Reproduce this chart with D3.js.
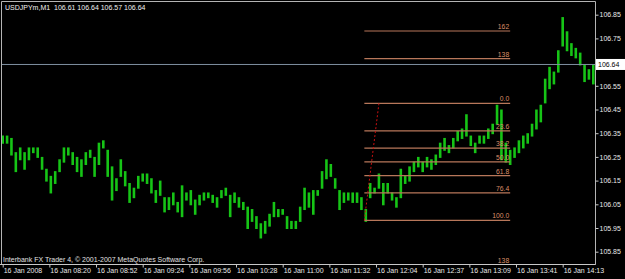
<!DOCTYPE html>
<html>
<head>
<meta charset="utf-8">
<script src="https://cdn.jsdelivr.net/npm/d3@7"></script>
<style>
  html, body { margin: 0; padding: 0; background: #000; overflow: hidden; }
  text { font-family: "Liberation Sans", Arial, sans-serif; }
</style>
</head>
<body>
<svg width="625" height="279"></svg>
<script>
// USDJPYm M1, one value every 3 minutes (high / low)
var title = "USDJPYm,M1  106.61 106.64 106.57 106.64";
var copyright = "Interbank FX Trader 4, \u00a9 2001-2007 MetaQuotes Software Corp.";
var lastPrice = 106.64;
var stepMin = 3;
var highs = [
  106.34,106.34,106.33,106.27,106.29,106.27,106.29,106.29,106.29,106.25,
  106.20,106.17,106.19,106.24,106.29,106.29,106.27,106.25,106.24,106.27,
  106.28,106.25,106.31,106.32,106.28,106.21,106.16,106.24,106.19,106.14,
  106.12,106.17,106.18,106.18,106.16,106.11,106.15,106.08,106.08,106.10,
  106.06,106.13,106.10,106.11,106.07,106.09,106.10,106.10,106.09,106.08,
  106.11,106.12,106.09,106.10,106.08,106.06,106.04,106.03,106.00,105.97,
  105.98,106.01,106.06,106.03,106.03,106.00,105.98,105.98,106.04,106.12,
  106.10,106.11,106.11,106.19,106.24,106.22,106.16,106.11,106.10,106.10,
  106.10,106.10,106.08,106.03,106.14,106.12,106.18,106.14,106.14,106.10,
  106.08,106.20,106.17,106.21,106.23,106.25,106.23,106.25,106.24,106.26,
  106.31,106.33,106.30,106.33,106.36,106.37,106.43,106.34,106.31,106.34,
  106.34,106.37,106.39,106.47,106.45,106.31,106.28,106.29,106.32,106.34,
  106.35,106.39,106.45,106.47,106.58,106.63,106.61,106.70,106.84,106.78,
  106.73,106.71,106.69,106.64,106.62,106.64
];
var lows = [
  106.31,106.31,106.26,106.19,106.24,106.20,106.24,106.27,106.25,106.20,
  106.15,106.10,106.14,106.19,106.23,106.26,106.22,106.19,106.17,106.22,
  106.25,106.17,106.22,106.29,106.17,106.07,106.11,106.17,106.13,106.06,
  106.08,106.12,106.15,106.14,106.10,106.06,106.09,106.02,106.03,106.05,
  106.02,106.00,106.07,106.05,106.01,106.05,106.07,106.08,106.06,106.04,
  106.08,106.09,106.00,106.06,106.04,106.03,105.95,105.98,105.95,105.91,
  105.93,105.96,106.00,106.00,106.01,105.95,105.95,105.95,105.98,106.03,
  106.04,106.01,106.09,106.12,106.16,106.17,106.12,106.03,106.06,106.07,
  106.06,106.06,106.03,105.98,106.08,106.10,106.12,106.05,106.10,106.07,
  106.04,106.08,106.14,106.15,106.19,106.21,106.19,106.21,106.20,106.22,
  106.25,106.28,106.27,106.29,106.32,106.33,106.34,106.30,106.27,106.31,
  106.31,106.33,106.35,106.39,106.24,106.23,106.22,106.25,106.27,106.29,
  106.31,106.34,106.37,106.40,106.48,106.54,106.56,106.61,106.72,106.70,
  106.68,106.67,106.64,106.57,106.58,106.56
];
var timeLabels = ["16 Jan 2008", "16 Jan 08:20", "16 Jan 08:52", "16 Jan 09:24", "16 Jan 09:56",
  "16 Jan 10:28", "16 Jan 11:00", "16 Jan 11:32", "16 Jan 12:04", "16 Jan 12:37",
  "16 Jan 13:09", "16 Jan 13:41", "16 Jan 14:13"];
var labelEvery = 32; // bars between time labels
var priceTicks = [106.85, 106.75, 106.55, 106.45, 106.35, 106.25, 106.15, 106.05, 105.95, 105.85];

// fibonacci retracement drawn on the chart
var fibHigh = 106.476, fibLow = 105.982;
var fibLevels = [0, 23.6, 38.2, 50, 61.8, 76.4, 100, -38.2, -61.8, 138.2];
var fibNames = ["0.0", "23.6", "38.2", "50.0", "61.8", "76.4", "100.0", "138", "162", "138"];
var fibFrom = 248, fibTo = 348, fibPeak = 258; // minutes

var svg = d3.select("svg");
var W = 625, H = 279, right = 595, bottom = 264;

var x = d3.scaleLinear().domain([0, 405]).range([2.7, 593.3]);
var y = d3.scaleLinear().domain([105.85, 106.85]).range([251.7, 14.7]);

svg.append("rect").attr("width", W).attr("height", H).attr("fill", "#000");

svg.append("defs").append("clipPath").attr("id", "plot")
  .append("rect").attr("x", 2).attr("y", 2).attr("width", right - 2).attr("height", bottom - 2);

var plot = svg.append("g").attr("clip-path", "url(#plot)");

// price bars
plot.selectAll("line.bar")
  .data(highs)
  .enter()
  .append("line")
  .attr("class", "bar")
  .attr("x1", function(d, i) { return x(i * stepMin); })
  .attr("x2", function(d, i) { return x(i * stepMin); })
  .attr("y1", function(d) { return y(d); })
  .attr("y2", function(d, i) { return y(lows[i]) + 1; })
  .attr("stroke", "#16c416")
  .attr("stroke-width", 2.6);

// current price line
plot.append("line")
  .attr("x1", 0).attr("x2", right)
  .attr("y1", y(lastPrice)).attr("y2", y(lastPrice))
  .attr("stroke", "#7f8fa0").attr("stroke-width", 1);

// fibo levels
var fibPrice = function(l) { return fibHigh - (fibHigh - fibLow) * l / 100; };
var fib = plot.selectAll("g.fib")
  .data(fibLevels)
  .enter()
  .append("g")
  .attr("class", "fib");
fib.append("line")
  .attr("x1", x(fibFrom)).attr("x2", x(fibTo))
  .attr("y1", function(d) { return y(fibPrice(d)); })
  .attr("y2", function(d) { return y(fibPrice(d)); })
  .attr("stroke", "#b8775a").attr("stroke-width", 1.2);
fib.append("text")
  .attr("x", x(fibTo) - 1)
  .attr("y", function(d) { return y(fibPrice(d)) - 2; })
  .attr("text-anchor", "end")
  .attr("font-size", 6.8)
  .attr("fill", "#dc8e68")
  .text(function(d, i) { return fibNames[i]; });

// dotted trend line of the fibo
plot.append("line")
  .attr("x1", x(fibFrom)).attr("y1", y(fibLow))
  .attr("x2", x(fibPeak)).attr("y2", y(fibHigh))
  .attr("stroke", "#c81010").attr("stroke-width", 1)
  .attr("stroke-dasharray", "2,2");

// frame
svg.append("path")
  .attr("d", "M1.5,1.5H" + (right + 0.5) + "V" + (bottom + 0.5) + "H1.5Z")
  .attr("fill", "none").attr("stroke", "#b4b4b4").attr("stroke-width", 1);
svg.append("line")
  .attr("x1", 0).attr("x2", right + 0.5)
  .attr("y1", bottom + 0.5).attr("y2", bottom + 0.5)
  .attr("stroke", "#c8c8c8");

// price axis
var yAxis = svg.append("g")
  .attr("transform", "translate(" + (right + 0.5) + ",0)")
  .call(d3.axisRight(y).tickValues(priceTicks).tickSize(3).tickPadding(1).tickFormat(d3.format(".2f")));
yAxis.select(".domain").remove();
yAxis.selectAll("line").attr("stroke", "#c8c8c8");
yAxis.selectAll("text").attr("fill", "#e8e8e8").attr("font-size", 7).attr("font-family", "Liberation Sans, Arial, sans-serif");

// time axis
var xAxis = svg.append("g")
  .attr("transform", "translate(0," + (bottom + 0.5) + ")")
  .call(d3.axisBottom(x)
    .tickValues(timeLabels.map(function(d, i) { return i * labelEvery; }))
    .tickSize(3).tickPadding(1)
    .tickFormat(function(d, i) { return timeLabels[i]; }));
xAxis.select(".domain").remove();
xAxis.selectAll("line").attr("stroke", "#c8c8c8");
xAxis.selectAll("text")
  .attr("text-anchor", "start").attr("x", 0.5)
  .attr("fill", "#e8e8e8").attr("font-size", 7).attr("font-family", "Liberation Sans, Arial, sans-serif");

// current price box
svg.append("rect")
  .attr("x", right + 1).attr("y", y(lastPrice) - 5.5)
  .attr("width", 29).attr("height", 11)
  .attr("fill", "#fff");
svg.append("text")
  .attr("x", right + 3).attr("y", y(lastPrice) + 2.5)
  .attr("font-size", 7).attr("fill", "#000")
  .text(d3.format(".2f")(lastPrice));

// title and copyright
svg.append("text")
  .attr("x", 5).attr("y", 9.5)
  .attr("font-size", 7).attr("fill", "#f0f0f0")
  .attr("xml:space", "preserve")
  .style("white-space", "pre")
  .text(title);
svg.append("text")
  .attr("x", 3).attr("y", 262)
  .attr("font-size", 7).attr("fill", "#e0e0e0")
  .text(copyright);
</script>
</body>
</html>
